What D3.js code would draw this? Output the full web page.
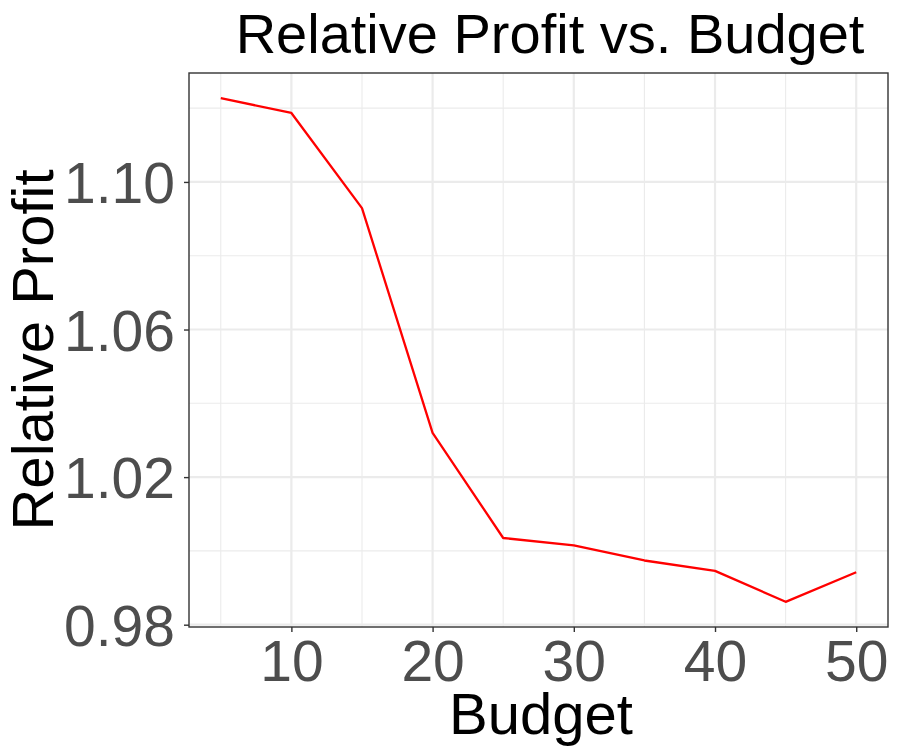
<!DOCTYPE html>
<html>
<head>
<meta charset="utf-8">
<script src="https://cdn.jsdelivr.net/npm/d3@7"></script>
<style>
  body { margin: 0; background: #fff; }
  text { font-family: "Liberation Sans", Arial, Helvetica, sans-serif; }
</style>
</head>
<body>
<svg id="chart" width="900" height="750"></svg>
<script>
const budget = [5, 10, 15, 20, 25, 30, 35, 40, 45, 50];
const relativeProfit = [1.1227, 1.1187, 1.0929, 1.0320, 1.0035, 1.0015, 0.9974, 0.9946, 0.9862, 0.9942];
const xTicks = [10, 20, 30, 40, 50];
const xMinor = [5, 15, 25, 35, 45];
const yTicks = [0.98, 1.02, 1.06, 1.10];
const yMinor = [1.00, 1.04, 1.08, 1.12];
const yTickLabels = ["0.98", "1.02", "1.06", "1.10"];

const svg = d3.select("#chart");
const panel = { left: 189, right: 888, top: 73, bottom: 627 };

const xMin = d3.min(budget), xMax = d3.max(budget);
const xPad = (xMax - xMin) * 0.05;
const yMin = d3.min(relativeProfit), yMax = d3.max(relativeProfit);
const yPad = (yMax - yMin) * 0.05;

const x = d3.scaleLinear().domain([xMin - xPad, xMax + xPad]).range([panel.left, panel.right]);
const y = d3.scaleLinear().domain([yMin - yPad, yMax + yPad]).range([panel.bottom, panel.top]);

svg.append("rect").attr("x", 0).attr("y", 0).attr("width", 900).attr("height", 750).attr("fill", "#fff");

const grid = svg.append("g");
grid.selectAll(".xminor").data(xMinor).join("line")
  .attr("x1", d => x(d)).attr("x2", d => x(d))
  .attr("y1", panel.top).attr("y2", panel.bottom)
  .attr("stroke", "#EBEBEB").attr("stroke-width", 1.1);
grid.selectAll(".yminor").data(yMinor).join("line")
  .attr("y1", d => y(d)).attr("y2", d => y(d))
  .attr("x1", panel.left).attr("x2", panel.right)
  .attr("stroke", "#EBEBEB").attr("stroke-width", 1.1);
grid.selectAll(".xmajor").data(xTicks).join("line")
  .attr("x1", d => x(d)).attr("x2", d => x(d))
  .attr("y1", panel.top).attr("y2", panel.bottom)
  .attr("stroke", "#EBEBEB").attr("stroke-width", 2.2);
grid.selectAll(".ymajor").data(yTicks).join("line")
  .attr("y1", d => y(d)).attr("y2", d => y(d))
  .attr("x1", panel.left).attr("x2", panel.right)
  .attr("stroke", "#EBEBEB").attr("stroke-width", 2.2);

const line = d3.line().x((d, i) => x(budget[i])).y(d => y(d));
svg.append("path").datum(relativeProfit)
  .attr("d", line)
  .attr("fill", "none").attr("stroke", "#FF0000").attr("stroke-width", 2.3)
  .attr("stroke-linejoin", "round");

svg.append("rect")
  .attr("x", panel.left).attr("y", panel.top)
  .attr("width", panel.right - panel.left).attr("height", panel.bottom - panel.top)
  .attr("fill", "none").attr("stroke", "#333333").attr("stroke-width", 1.4);

const xAxis = d3.axisBottom(x).tickValues(xTicks).tickSize(5).tickPadding(6).tickFormat(d3.format("d"));
const gx = svg.append("g").attr("transform", `translate(0,${panel.bottom})`).call(xAxis);
gx.select(".domain").remove();
gx.selectAll(".tick line").attr("stroke", "#333333").attr("stroke-width", 1.4);
gx.selectAll(".tick text").attr("fill", "#4D4D4D").attr("font-size", 57)
  .attr("font-family", "Liberation Sans, Arial, sans-serif")
  .attr("dy", null).attr("y", 54);

const yAxis = d3.axisLeft(y).tickValues(yTicks).tickSize(5).tickPadding(6)
  .tickFormat((d, i) => yTickLabels[i]);
const gy = svg.append("g").attr("transform", `translate(${panel.left},0)`).call(yAxis);
gy.select(".domain").remove();
gy.selectAll(".tick line").attr("stroke", "#333333").attr("stroke-width", 1.4);
gy.selectAll(".tick text").attr("fill", "#4D4D4D").attr("font-size", 57)
  .attr("font-family", "Liberation Sans, Arial, sans-serif")
  .attr("dy", "0.36em").attr("x", -14);

svg.append("text").attr("x", 550).attr("y", 53)
  .attr("text-anchor", "middle").attr("font-size", 56).attr("fill", "#000")
  .text("Relative Profit vs. Budget");
svg.append("text").attr("x", 541).attr("y", 734)
  .attr("text-anchor", "middle").attr("font-size", 58).attr("fill", "#000")
  .text("Budget");
svg.append("text")
  .attr("transform", `translate(53,${(panel.top + panel.bottom) / 2}) rotate(-90)`)
  .attr("text-anchor", "middle").attr("font-size", 58).attr("fill", "#000")
  .text("Relative Profit");
</script>
</body>
</html>
